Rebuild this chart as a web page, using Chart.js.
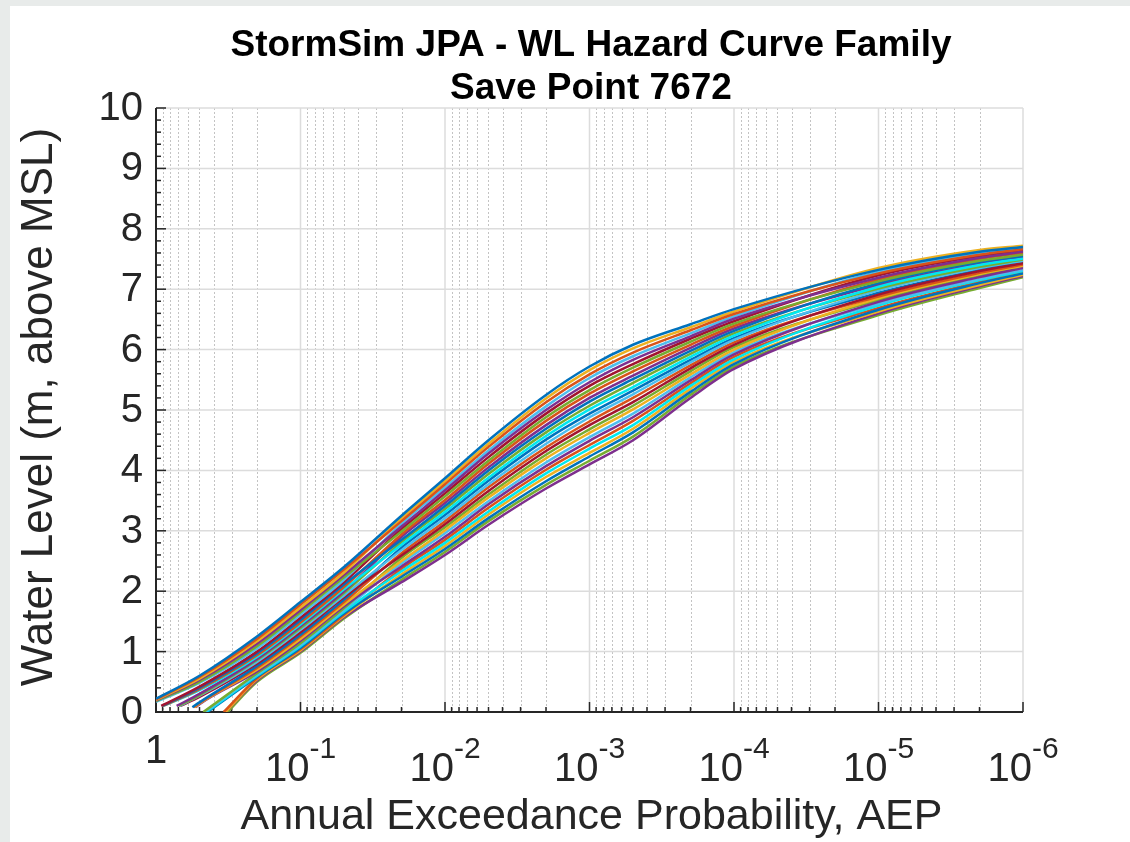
<!DOCTYPE html>
<html>
<head>
<meta charset="utf-8">
<title>StormSim JPA - WL Hazard Curve Family</title>
<script src="https://cdn.jsdelivr.net/npm/chart.js@4.4.1/dist/chart.umd.min.js"></script>
<style>
  html, body { margin: 0; padding: 0; background: #fff; }
  canvas { display: block; }
</style>
</head>
<body>
<canvas id="hazard-chart" width="1130" height="842"></canvas>
<script>
const aepGrid = [0.5, 0.2, 0.1, 0.05, 0.02, 0.01, 0.005, 0.002, 0.001, 5e-4, 2e-4, 1e-4, 1e-5, 2e-6, 1e-6];

// first point of each curve (AEP, water level)
const startAEP = [1, 1, 1, 1, 1, 1,
                  0.92, 0.91, 0.90, 0.89,
                  0.72, 0.70, 0.69, 0.68,
                  0.56, 0.55, 0.54, 0.53,
                  0.47, 0.46, 0.45, 0.44,
                  0.34, 0.33, 0.33, 0.32];
const startWL = [0.22, 0.21, 0.20, 0.19, 0.18, 0.17,
                 0.10, 0.10, 0.10, 0.10,
                 0.10, 0.10, 0.10, 0.10,
                 0.08, 0.08, 0.08, 0.08,
                 0, 0, 0, 0,
                 0, 0, 0, 0];

// water level (m) of each curve at aepGrid
const curveWL = [
  [0.60, 1.25, 1.82, 2.40, 3.25, 3.87, 4.50, 5.25, 5.72, 6.08, 6.42, 6.67, 7.32, 7.62, 7.70],
  [0.58, 1.21, 1.78, 2.36, 3.16, 3.77, 4.39, 5.13, 5.59, 5.95, 6.32, 6.59, 7.26, 7.57, 7.66],
  [0.55, 1.17, 1.73, 2.31, 3.21, 3.82, 4.44, 5.19, 5.66, 6.02, 6.37, 6.63, 7.35, 7.65, 7.72],
  [0.53, 1.13, 1.69, 2.27, 3.07, 3.67, 4.28, 5.00, 5.46, 5.83, 6.22, 6.51, 7.19, 7.52, 7.62],
  [0.50, 1.09, 1.65, 2.23, 2.99, 3.57, 4.16, 4.88, 5.33, 5.70, 6.13, 6.43, 7.13, 7.47, 7.57],
  [0.48, 1.05, 1.61, 2.19, 3.12, 3.72, 4.33, 5.06, 5.53, 5.89, 6.27, 6.55, 7.29, 7.60, 7.68],
  [0.42, 1.00, 1.56, 2.15, 3.03, 3.62, 4.22, 4.94, 5.40, 5.76, 6.18, 6.47, 7.23, 7.55, 7.64],
  [0.40, 0.97, 1.52, 2.11, 2.85, 3.41, 4.00, 4.69, 5.14, 5.51, 5.98, 6.31, 7.10, 7.45, 7.55],
  [0.38, 0.94, 1.48, 2.07, 2.94, 3.51, 4.11, 4.82, 5.27, 5.64, 6.08, 6.39, 7.16, 7.50, 7.60],
  [0.36, 0.91, 1.45, 2.03, 2.77, 3.31, 3.88, 4.57, 5.01, 5.38, 5.88, 6.23, 7.04, 7.40, 7.51],
  [0.30, 0.88, 1.42, 2.00, 2.90, 3.46, 4.05, 4.75, 5.20, 5.57, 6.03, 6.35, 7.07, 7.42, 7.53],
  [0.28, 0.86, 1.39, 1.97, 2.81, 3.36, 3.94, 4.63, 5.07, 5.45, 5.93, 6.27, 7.01, 7.37, 7.49],
  [0.27, 0.83, 1.36, 1.93, 2.68, 3.21, 3.77, 4.44, 4.88, 5.26, 5.79, 6.16, 6.98, 7.35, 7.47],
  [0.25, 0.80, 1.32, 1.90, 2.59, 3.11, 3.66, 4.32, 4.75, 5.13, 5.69, 6.08, 6.91, 7.30, 7.43],
  [0.16, 0.76, 1.28, 1.86, 2.72, 3.26, 3.83, 4.51, 4.94, 5.32, 5.83, 6.19, 6.94, 7.32, 7.45],
  [0.15, 0.73, 1.25, 1.82, 2.63, 3.16, 3.72, 4.38, 4.81, 5.20, 5.74, 6.12, 6.88, 7.27, 7.41],
  [0.14, 0.70, 1.21, 1.78, 2.50, 3.01, 3.55, 4.20, 4.62, 5.01, 5.59, 6.00, 6.85, 7.25, 7.39],
  [0.13, 0.67, 1.18, 1.75, 2.41, 2.90, 3.44, 4.07, 4.49, 4.88, 5.49, 5.92, 6.79, 7.20, 7.35],
  [null, 0.64, 1.14, 1.72, 2.55, 3.06, 3.60, 4.26, 4.68, 5.07, 5.64, 6.04, 6.82, 7.22, 7.37],
  [null, 0.62, 1.11, 1.69, 2.46, 2.96, 3.49, 4.13, 4.55, 4.94, 5.54, 5.96, 6.76, 7.17, 7.32],
  [null, 0.60, 1.09, 1.66, 2.33, 2.80, 3.32, 3.95, 4.36, 4.75, 5.40, 5.84, 6.73, 7.15, 7.30],
  [null, 0.58, 1.06, 1.63, 2.24, 2.70, 3.21, 3.82, 4.23, 4.63, 5.30, 5.76, 6.66, 7.10, 7.26],
  [null, 0.56, 1.04, 1.61, 2.37, 2.85, 3.38, 4.01, 4.42, 4.82, 5.44, 5.88, 6.69, 7.12, 7.28],
  [null, 0.54, 1.02, 1.59, 2.28, 2.75, 3.27, 3.89, 4.29, 4.69, 5.35, 5.80, 6.63, 7.07, 7.24],
  [null, 0.52, 1.00, 1.57, 2.15, 2.60, 3.10, 3.70, 4.10, 4.50, 5.20, 5.68, 6.60, 7.05, 7.22],
  [null, 0.50, 0.98, 1.55, 2.19, 2.65, 3.16, 3.76, 4.16, 4.56, 5.25, 5.72, 6.57, 7.02, 7.20]
];

// axes
const yTicks = [0, 1, 2, 3, 4, 5, 6, 7, 8, 9, 10];
const xDecades = [1, 1e-1, 1e-2, 1e-3, 1e-4, 1e-5, 1e-6];
const xExponents = [0, -1, -2, -3, -4, -5, -6];

// matlab default line colour order, plus a couple of cyan curves
const palette = ['#0072BD', '#D95319', '#EDB120', '#7E2F8E', '#77AC30', '#4DBEEE', '#A2142F'];
const cyanCurves = [9, 20];

const FONT = '"Liberation Sans", Arial, Helvetica, sans-serif';
const AXIS_COLOR = '#262626';

function buildDatasets() {
  return curveWL.map((row, i) => {
    const pts = [{ x: startAEP[i], y: startWL[i] }];
    row.forEach((wl, j) => {
      if (wl !== null && aepGrid[j] < startAEP[i]) pts.push({ x: aepGrid[j], y: wl });
    });
    return {
      label: 'Curve ' + (i + 1),
      data: pts,
      borderColor: cyanCurves.includes(i) ? '#00E8F0' : palette[i % palette.length],
      borderWidth: 2.5,
      pointRadius: 0,
      fill: false,
      cubicInterpolationMode: 'monotone'
    };
  });
}

function minorXValues() {
  const vals = [];
  for (let e = 0; e > -6; e--) {
    for (let k = 2; k <= 9; k++) vals.push(k * Math.pow(10, e - 1));
  }
  return vals;
}

function strokeLine(ctx, x1, y1, x2, y2) {
  ctx.beginPath();
  ctx.moveTo(x1, y1);
  ctx.lineTo(x2, y2);
  ctx.stroke();
}

const matlabAxes = {
  id: 'matlabAxes',
  beforeDraw(chart) {
    const ctx = chart.ctx;
    ctx.save();
    ctx.fillStyle = '#e8ebea';
    ctx.fillRect(0, 0, chart.width, chart.height);
    ctx.fillStyle = '#ffffff';
    ctx.fillRect(10, 6, chart.width - 10, chart.height - 6);
    ctx.restore();
  },
  beforeDatasetsDraw(chart) {
    const { ctx, chartArea: a, scales: { x, y } } = chart;
    ctx.save();

    // minor grid, dotted
    ctx.strokeStyle = 'rgba(38,38,38,0.28)';
    ctx.lineWidth = 1;
    ctx.setLineDash([2, 2]);
    minorXValues().forEach(v => {
      const px = Math.round(x.getPixelForValue(v)) + 0.5;
      strokeLine(ctx, px, a.top, px, a.bottom);
    });

    // major grid
    ctx.setLineDash([]);
    ctx.strokeStyle = '#dcdcdc';
    ctx.lineWidth = 1.5;
    xDecades.forEach(v => {
      const px = x.getPixelForValue(v);
      strokeLine(ctx, px, a.top, px, a.bottom);
    });
    yTicks.forEach(v => {
      const py = y.getPixelForValue(v);
      strokeLine(ctx, a.left, py, a.right, py);
    });

    // axis lines
    ctx.strokeStyle = AXIS_COLOR;
    ctx.lineWidth = 2;
    strokeLine(ctx, a.left, a.top, a.left, a.bottom + 1);
    strokeLine(ctx, a.left - 1, a.bottom, a.right, a.bottom);

    // ticks pointing in
    ctx.lineWidth = 1.5;
    xDecades.forEach(v => {
      const px = x.getPixelForValue(v);
      strokeLine(ctx, px, a.bottom, px, a.bottom - 10);
    });
    minorXValues().forEach(v => {
      const px = x.getPixelForValue(v);
      strokeLine(ctx, px, a.bottom, px, a.bottom - 5);
    });
    for (let i = 0; i <= 50; i++) {
      const py = y.getPixelForValue(i * 0.2);
      strokeLine(ctx, a.left, py, a.left + (i % 5 === 0 ? 10 : 5), py);
    }
    ctx.restore();
  },
  afterDraw(chart) {
    const { ctx, chartArea: a, scales: { x, y } } = chart;
    ctx.save();
    ctx.fillStyle = AXIS_COLOR;

    // y tick labels
    ctx.font = '40px ' + FONT;
    ctx.textAlign = 'right';
    ctx.textBaseline = 'middle';
    yTicks.forEach(v => ctx.fillText(String(v), a.left - 13, y.getPixelForValue(v) + 1));

    // x tick labels, 10 with superscript exponent
    ctx.textBaseline = 'alphabetic';
    xDecades.forEach((v, i) => {
      const px = x.getPixelForValue(v);
      if (xExponents[i] === 0) {
        ctx.font = '40px ' + FONT;
        ctx.textAlign = 'center';
        ctx.fillText('1', px, a.bottom + 51);
        return;
      }
      const exp = String(xExponents[i]);
      ctx.font = '40px ' + FONT;
      const wBase = ctx.measureText('10').width;
      ctx.font = '30px ' + FONT;
      const wExp = ctx.measureText(exp).width;
      const left = px - (wBase + wExp) / 2;
      ctx.textAlign = 'left';
      ctx.font = '40px ' + FONT;
      ctx.fillText('10', left, a.bottom + 69);
      ctx.font = '30px ' + FONT;
      ctx.fillText(exp, left + wBase, a.bottom + 46);
    });

    // axis titles
    ctx.font = '43px ' + FONT;
    ctx.textAlign = 'center';
    ctx.fillText('Annual Exceedance Probability, AEP', (a.left + a.right) / 2 + 2, 829);
    ctx.save();
    ctx.translate(52, 407);
    ctx.rotate(-Math.PI / 2);
    ctx.font = '44px ' + FONT;
    ctx.fillText('Water Level (m, above MSL)', 0, 0);
    ctx.restore();

    // title
    ctx.fillStyle = '#000';
    ctx.font = 'bold 37px ' + FONT;
    ctx.fillText('StormSim JPA - WL Hazard Curve Family', 591, 56);
    ctx.fillText('Save Point 7672', 591, 99);
    ctx.restore();
  }
};

const chart = new Chart(document.getElementById('hazard-chart'), {
  type: 'line',
  data: { datasets: buildDatasets() },
  options: {
    responsive: false,
    animation: false,
    devicePixelRatio: 1,
    layout: { padding: { left: 156, top: 108, right: 107, bottom: 130 } },
    plugins: { legend: { display: false }, tooltip: { enabled: false }, title: { display: false } },
    scales: {
      x: { type: 'logarithmic', min: 1e-6, max: 1, reverse: true, display: false },
      y: { type: 'linear', min: 0, max: 10, display: false }
    }
  },
  plugins: [matlabAxes]
});
</script>
</body>
</html>
